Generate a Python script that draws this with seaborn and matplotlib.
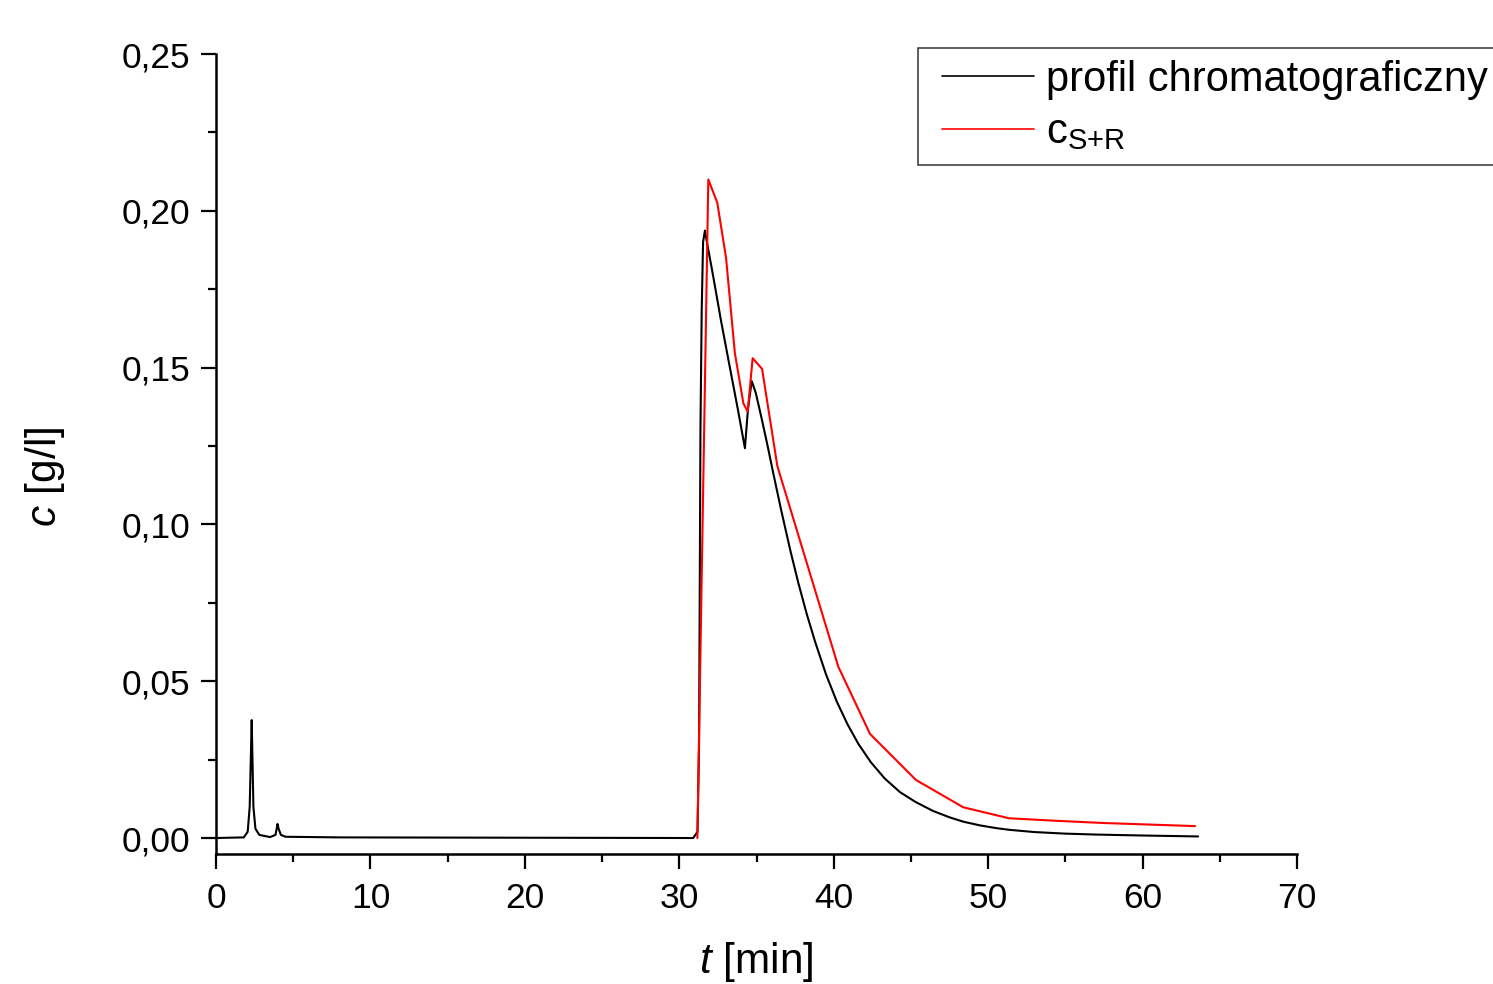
import numpy as np
import pandas as pd
import matplotlib
matplotlib.use("Agg")
import matplotlib.pyplot as plt
from matplotlib.ticker import FixedLocator, MultipleLocator, FixedFormatter
from matplotlib.legend_handler import HandlerLine2D
import seaborn as sns

# Chromatographic profile (time in min, concentration in g/l)
profile_t = [0.0, 1.8, 2.05, 2.18, 2.25, 2.31, 2.36, 2.42, 2.55, 2.8, 3.5,
             3.85, 3.93, 3.98, 4.05, 4.2, 4.5, 8.0, 30.9, 31.18, 31.28, 31.37,
             31.45, 31.54, 31.66, 31.79, 32.2, 32.7, 33.2, 33.8, 34.25, 34.45,
             34.69, 34.95, 35.3, 35.7, 36.1, 36.6, 37.2, 37.7, 38.25, 38.8,
             39.5, 40.2, 40.9, 41.6, 42.4, 43.3, 44.3, 45.3, 46.4, 47.5, 48.4,
             49.5, 50.6, 51.4, 53.0, 55.0, 57.0, 60.0, 63.6]
profile_c = [0.0, 0.0002, 0.002, 0.010, 0.025, 0.0376, 0.025, 0.010, 0.003,
             0.001, 0.0003, 0.001, 0.003, 0.0045, 0.003, 0.001, 0.0004, 0.0002,
             0.0, 0.002, 0.030, 0.130, 0.168, 0.190, 0.1937, 0.190, 0.179,
             0.165, 0.152, 0.1365, 0.1243, 0.137, 0.1457, 0.1420, 0.1345,
             0.1255, 0.1160, 0.1045, 0.0915, 0.0815, 0.0715, 0.0625, 0.0522,
             0.0435, 0.0362, 0.0300, 0.0242, 0.0190, 0.0146, 0.0115, 0.0087,
             0.0066, 0.0052, 0.0040, 0.0031, 0.0026, 0.0019, 0.0014, 0.0011,
             0.0008, 0.0005]

# Summed S+R concentration
sum_t = [31.17, 31.88, 32.46, 33.03, 33.6, 34.15, 34.43, 34.75, 35.36, 36.35,
         40.3, 42.35, 45.33, 48.39, 51.35, 54.4, 57.4, 60.4, 63.4]
sum_c = [0.0, 0.210, 0.2026, 0.1849, 0.1546, 0.1386, 0.136, 0.153, 0.1496,
         0.1186, 0.0546, 0.0332, 0.0185, 0.0098, 0.0063, 0.0055, 0.0048,
         0.0043, 0.0038]

x_ticks = [0, 10, 20, 30, 40, 50, 60, 70]
x_tick_labels = ["0", "10", "20", "30", "40", "50", "60", "70"]
y_ticks = [0.0, 0.05, 0.10, 0.15, 0.20, 0.25]
y_tick_labels = ["0,00", "0,05", "0,10", "0,15", "0,20", "0,25"]

label_profile = "profil chromatograficzny"
label_sum = r"$\mathregular{c_{S{+}R}}$"


class InsetLineHandler(HandlerLine2D):
    """Legend line that leaves an empty margin on its left side."""

    def __init__(self, margin_frac, **kw):
        super().__init__(**kw)
        self.margin_frac = margin_frac

    def create_artists(self, legend, orig_handle, xdescent, ydescent,
                       width, height, fontsize, trans):
        gap = self.margin_frac * width
        return super().create_artists(legend, orig_handle, xdescent - gap,
                                      ydescent, width - gap, height,
                                      fontsize, trans)


sns.set_theme(style="ticks")
plt.rcParams["font.family"] = ["Liberation Sans", "DejaVu Sans"]
plt.rcParams["mathtext.fontset"] = "custom"
plt.rcParams["mathtext.rm"] = "Liberation Sans"
plt.rcParams["mathtext.it"] = "Liberation Sans:italic"
plt.rcParams["mathtext.bf"] = "Liberation Sans:bold"
for key in ("text.color", "axes.labelcolor", "xtick.color", "ytick.color"):
    plt.rcParams[key] = "black"

fig = plt.figure(figsize=(14.93, 9.84), dpi=100)
ax = fig.add_axes([0.1447, 0.1321, 0.7240, 0.8130])

df_profile = pd.DataFrame({"t": profile_t, "c": profile_c})
df_sum = pd.DataFrame({"t": sum_t, "c": sum_c})

sns.lineplot(data=df_profile, x="t", y="c", ax=ax, color="black",
             linewidth=1.5, sort=False, estimator=None, label=label_profile)
sns.lineplot(data=df_sum, x="t", y="c", ax=ax, color="#ff0000",
             linewidth=1.5, sort=False, estimator=None, label=label_sum)

ax.set_xlim(0, 70)
ax.set_ylim(-0.0051, 0.25)

ax.xaxis.set_major_locator(FixedLocator(x_ticks))
ax.xaxis.set_major_formatter(FixedFormatter(x_tick_labels))
ax.xaxis.set_minor_locator(MultipleLocator(5))
ax.yaxis.set_major_locator(FixedLocator(y_ticks))
ax.yaxis.set_major_formatter(FixedFormatter(y_tick_labels))
ax.yaxis.set_minor_locator(MultipleLocator(0.025))

for side in ("top", "right"):
    ax.spines[side].set_visible(False)
for side in ("left", "bottom"):
    ax.spines[side].set_color("black")
    ax.spines[side].set_linewidth(1.8)

ax.tick_params(axis="both", which="major", direction="out", length=10.5,
               width=1.6, colors="black", labelsize=25.5)
ax.tick_params(axis="x", which="major", pad=10)
ax.tick_params(axis="y", which="major", pad=8)
ax.tick_params(axis="both", which="minor", direction="out", length=6,
               width=1.6, colors="black")

ax.set_xlabel(r"$\mathit{t}$ [min]", fontsize=30.5, labelpad=18)
ax.set_ylabel("")
fig.text(45 / 1493, 1 - 477 / 984, r"$\mathit{c}$ [g/l]", fontsize=30.5,
         rotation=90, ha="center", va="center")

handler = InsetLineHandler(margin_frac=0.11)
handles, labels = ax.get_legend_handles_labels()
leg = ax.legend(handles, labels, loc="upper left",
                bbox_to_anchor=(918 / 1493, 1 - 48 / 984),
                bbox_transform=fig.transFigure, fontsize=30, frameon=True,
                fancybox=False, framealpha=1, edgecolor="#333333",
                handlelength=2.5, handletextpad=0.29, borderpad=0.29,
                labelspacing=0.3, borderaxespad=0,
                handler_map={h: handler for h in handles})
leg.get_frame().set_linewidth(1.1)
for line in leg.get_lines():
    line.set_linewidth(1.2)

fig.savefig("out.png", dpi=100)
